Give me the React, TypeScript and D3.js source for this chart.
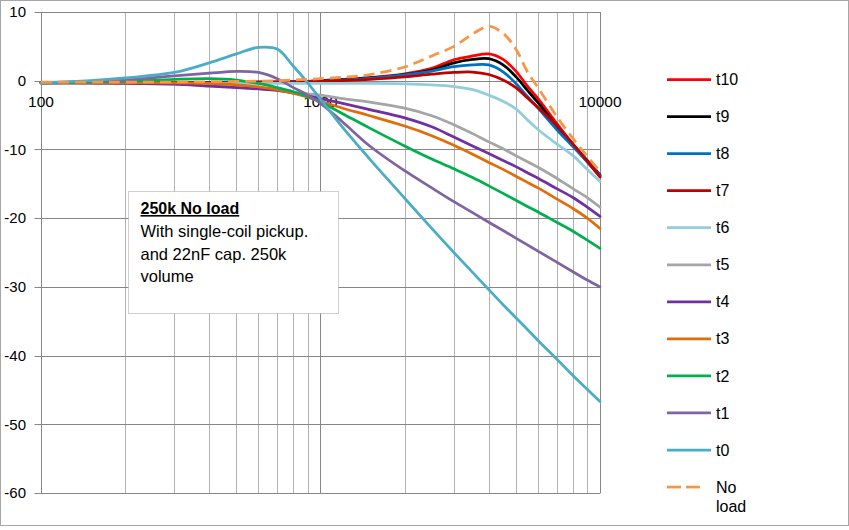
import React from "react";
import * as d3 from "d3";

const FREQ = [100, 150, 200, 300, 400, 500, 600, 700, 800, 900, 1000, 1200, 1500, 2000, 2500, 3000, 3500, 4000, 4500, 5000, 5500, 6000, 7000, 8000, 9000, 10000];

const T10 = [-0.3, -0.3, -0.3, -0.3, -0.3, -0.25, -0.2, -0.2, -0.15, -0.1, 0.05, 0.2, 0.45, 1.0, 1.8, 3.05, 3.6, 3.9, 3.1, 1.4, -0.8, -2.6, -6.2, -9.3, -11.8, -14.0];
const T9 = [-0.3, -0.3, -0.3, -0.3, -0.3, -0.25, -0.2, -0.2, -0.15, -0.1, 0.0, 0.15, 0.4, 0.9, 1.55, 2.6, 3.1, 3.2, 2.3, 0.6, -1.4, -3.2, -6.6, -9.3, -11.6, -13.7];
const T8 = [-0.3, -0.3, -0.3, -0.3, -0.3, -0.25, -0.2, -0.2, -0.15, -0.1, -0.05, 0.1, 0.35, 0.85, 1.4, 2.05, 2.3, 2.3, 1.3, -0.4, -2.3, -4.0, -7.1, -9.6, -11.8, -13.8];
const T7 = [-0.3, -0.3, -0.3, -0.3, -0.3, -0.3, -0.25, -0.2, -0.2, -0.15, -0.1, 0.0, 0.2, 0.55, 0.95, 1.2, 1.25, 0.9, 0.1, -1.0, -2.5, -3.9, -6.5, -9.2, -11.7, -14.0];
const T6 = [-0.4, -0.4, -0.4, -0.4, -0.4, -0.4, -0.4, -0.4, -0.4, -0.4, -0.4, -0.4, -0.4, -0.45, -0.6, -0.85, -1.3, -2.1, -3.0, -4.1, -5.7, -7.1, -9.2, -10.9, -12.9, -14.65];
const T5 = [-0.3, -0.3, -0.4, -0.5, -0.7, -0.9, -1.1, -1.4, -1.7, -1.9, -2.1, -2.6, -3.1, -4.0, -5.1, -6.4, -7.7, -8.9, -9.9, -10.9, -11.8, -12.6, -14.2, -15.7, -17.0, -18.4];
const T4 = [-0.3, -0.3, -0.4, -0.5, -0.8, -1.0, -1.2, -1.4, -1.8, -2.2, -2.6, -3.3, -4.2, -5.4, -6.7, -8.2, -9.5, -10.6, -11.6, -12.5, -13.4, -14.2, -15.7, -17.0, -18.4, -19.75];
const T3 = [-0.3, -0.3, -0.3, -0.3, -0.4, -0.6, -0.9, -1.3, -1.8, -2.4, -3.0, -4.0, -5.1, -6.6, -8.0, -9.4, -10.7, -11.9, -12.9, -13.9, -14.8, -15.6, -17.2, -18.6, -20.0, -21.5];
const T2 = [-0.3, -0.2, -0.1, 0.2, 0.3, 0.1, -0.4, -1.0, -1.6, -2.3, -3.1, -4.8, -6.9, -9.5, -11.4, -12.8, -14.1, -15.3, -16.4, -17.4, -18.3, -19.1, -20.6, -21.9, -23.2, -24.4];
const T1 = [-0.3, -0.1, 0.1, 0.7, 1.1, 1.35, 1.2, 0.3, -1.0, -2.1, -3.3, -6.0, -9.5, -13.1, -15.6, -17.6, -19.2, -20.6, -21.8, -22.9, -23.9, -24.8, -26.4, -27.8, -29.0, -30.0];
const T0 = [-0.3, 0.0, 0.4, 1.2, 2.6, 3.9, 4.85, 4.6, 2.1, -0.3, -2.7, -6.8, -11.4, -17.1, -21.5, -25.0, -27.9, -30.4, -32.6, -34.5, -36.2, -37.8, -40.5, -42.9, -44.9, -46.7];
const NO_LOAD = [-0.2, -0.2, -0.2, -0.2, -0.15, -0.1, -0.05, 0.0, 0.1, 0.2, 0.3, 0.5, 0.9, 2.0, 3.6, 5.0, 6.8, 7.9, 6.9, 4.6, 1.3, -1.0, -5.2, -8.4, -11.0, -13.2];

const SERIES_NAMES = ["t10", "t9", "t8", "t7", "t6", "t5", "t4", "t3", "t2", "t1", "t0", "No load"];
const SERIES_VALUES = [T10, T9, T8, T7, T6, T5, T4, T3, T2, T1, T0, NO_LOAD];
const SERIES_COLORS = ["#ff0000", "#000000", "#0070c0", "#c00000", "#92cddc", "#a5a5a5", "#7030a0", "#e36c09", "#00b050", "#8064a2", "#4bacc6", "#f79646"];

const Y_TICKS = [10, 0, -10, -20, -30, -40, -50, -60];
const X_LABELS = [100, 1000, 10000];

const NOTE_TITLE = "250k No load";
const NOTE_LINES = ["With single-coil pickup.", "and 22nF cap. 250k", "volume"];

const FONT = "'Liberation Sans', Arial, sans-serif";

export default function App() {
  const W = 849;
  const H = 530;
  const x = d3.scaleLog().domain([100, 10000]).range([41, 600]);
  const y = d3.scaleLinear().domain([-60, 10]).range([493, 12]);

  const minorTicks: number[] = [];
  [100, 1000].forEach((dec) => {
    for (let k = 2; k <= 9; k++) minorTicks.push(dec * k);
  });

  const line = d3
    .line<number>()
    .x((_, i) => x(FREQ[i]))
    .y((d) => y(d))
    .curve(d3.curveCatmullRom.alpha(0.5));

  const px = (v: number) => Math.round(v) + 0.5;

  const legendX0 = 667;
  const legendX1 = 711;
  const legendY0 = 79.5;
  const legendStep = 37.05;

  return (
    <div style={{ position: "fixed", left: 0, top: 0, width: W, height: H, background: "#fff" }}>
      <svg width={W} height={H} style={{ display: "block" }}>
        <rect x={0} y={0} width={W} height={H} fill="#ffffff" />
        <rect x={0.5} y={0.5} width={W - 1} height={525} fill="none" stroke="#a6a6a6" />

        {minorTicks.map((f) => (
          <line key={"m" + f} x1={px(x(f))} x2={px(x(f))} y1={y(10)} y2={y(-60)} stroke="#b2b2b2" strokeWidth={1} />
        ))}
        {[1000, 10000].map((f) => (
          <line key={"M" + f} x1={px(x(f))} x2={px(x(f))} y1={y(10)} y2={y(-60)} stroke="#868686" strokeWidth={1} />
        ))}
        {Y_TICKS.map((t) => (
          <line key={"h" + t} x1={px(x(100)) - 7} x2={px(x(10000))} y1={px(y(t))} y2={px(y(t))} stroke="#868686" strokeWidth={1} />
        ))}
        <line x1={px(x(100))} x2={px(x(100))} y1={y(10)} y2={y(-60)} stroke="#868686" strokeWidth={1} />

        {Y_TICKS.map((t) => (
          <text key={"yl" + t} x={26} y={y(t)} dy="0.35em" textAnchor="end" fontFamily={FONT} fontSize={15} fill="#000">
            {t}
          </text>
        ))}
        {X_LABELS.map((f) => (
          <text key={"xl" + f} x={x(f)} y={y(0) + 21} dy="0.35em" textAnchor="middle" fontFamily={FONT} fontSize={15.5} fill="#000">
            {f}
          </text>
        ))}

        <rect x={128.5} y={191.5} width={210} height={122} fill="#ffffff" stroke="#a0a0a0" strokeWidth={1} strokeDasharray="1,1" />
        <text x={140.5} y={214} fontFamily={FONT} fontSize={16} fontWeight="bold" textDecoration="underline" fill="#000">
          {NOTE_TITLE}
        </text>
        {NOTE_LINES.map((l, i) => (
          <text key={"n" + i} x={140.5} y={237 + i * 22.7} fontFamily={FONT} fontSize={16.5} fill="#000">
            {l}
          </text>
        ))}

        {SERIES_VALUES.map((vals, i) => (
          <path
            key={"s" + i}
            d={line(vals) || ""}
            fill="none"
            stroke={SERIES_COLORS[i]}
            strokeWidth={2.75}
            strokeLinejoin="round"
            strokeLinecap={SERIES_NAMES[i] === "No load" ? "butt" : "round"}
            strokeDasharray={SERIES_NAMES[i] === "No load" ? "11,6" : undefined}
          />
        ))}

        {SERIES_NAMES.map((name, i) => {
          const ly = legendY0 + i * legendStep;
          const dashed = name === "No load";
          return (
            <g key={"lg" + i}>
              {dashed ? (
                <>
                  <line x1={legendX0} x2={legendX0 + 14} y1={ly} y2={ly} stroke={SERIES_COLORS[i]} strokeWidth={2.75} />
                  <line x1={legendX0 + 19} x2={legendX0 + 33} y1={ly} y2={ly} stroke={SERIES_COLORS[i]} strokeWidth={2.75} />
                </>
              ) : (
                <line x1={legendX0} x2={legendX1} y1={ly} y2={ly} stroke={SERIES_COLORS[i]} strokeWidth={2.75} />
              )}
              {dashed ? (
                <text x={716} y={ly} dy="0.35em" fontFamily={FONT} fontSize={16} fill="#000">
                  <tspan x={716}>No</tspan>
                  <tspan x={716} dy={19.5}>load</tspan>
                </text>
              ) : (
                <text x={716} y={ly} dy="0.35em" fontFamily={FONT} fontSize={16} fill="#000">
                  {name}
                </text>
              )}
            </g>
          );
        })}
      </svg>
    </div>
  );
}
